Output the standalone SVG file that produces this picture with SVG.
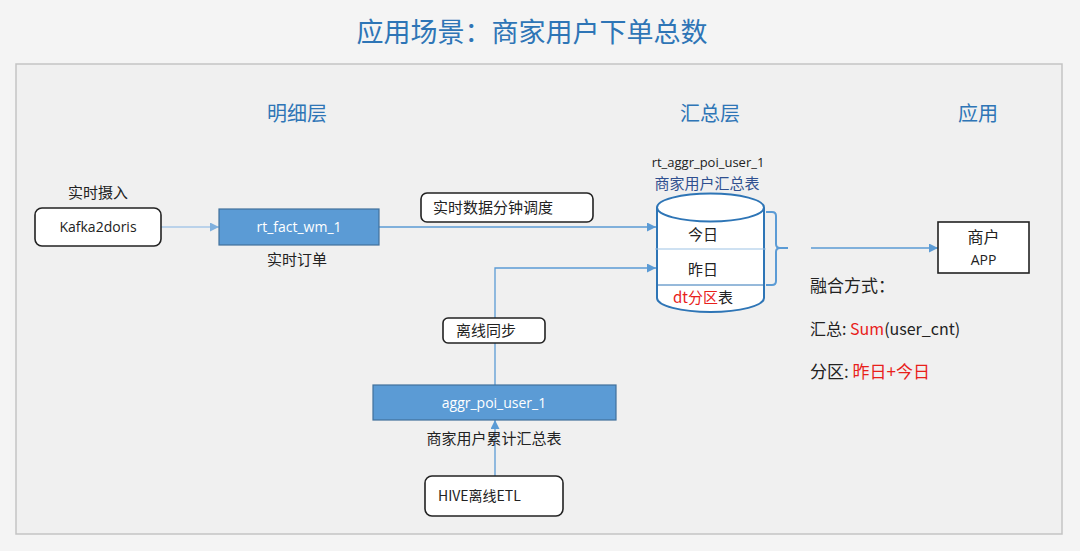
<svg xmlns="http://www.w3.org/2000/svg" width="1080" height="551" viewBox="0 0 1080 551">
<defs>
<style>
.cn{font-family:"Noto Sans CJK SC","Noto Sans",sans-serif;}
.lat{font-family:"Open Sans","Noto Sans","Noto Sans CJK SC",sans-serif;}
.hdr{font-size:20px;fill:#2e75b6;text-anchor:middle;}
.lbl{font-size:15px;fill:#222;}
.box{fill:#ffffff;stroke:#222;stroke-width:1.6;}
.blue{fill:#5b9bd5;stroke:#41719c;stroke-width:1.2;}
.wt{fill:#ffffff;font-size:14px;text-anchor:middle;}
.ln{fill:none;stroke:#5b9bd5;stroke-width:1.3;}
.red{fill:#e8201a;}
</style>
<marker id="ah" viewBox="0 0 10 10" refX="10" refY="5" markerWidth="9" markerHeight="9" markerUnits="userSpaceOnUse" orient="auto">
<path d="M0,0 L10,5 L0,10 z" fill="#5b9bd5"/>
</marker>
<marker id="ahl" viewBox="0 0 10 10" refX="10" refY="5" markerWidth="9" markerHeight="9" markerUnits="userSpaceOnUse" orient="auto">
<path d="M0,0 L10,5 L0,10 z" fill="#7fb0de"/>
</marker>
</defs>
<rect x="0" y="0" width="1080" height="551" fill="#f4f4f4"/>
<rect x="16" y="64" width="1046" height="470" fill="#f0f0f0" stroke="#c4c4c4" stroke-width="1.5"/>
<text class="cn" x="532" y="42" font-size="27" fill="#2e75b6" text-anchor="middle">应用场景：商家用户下单总数</text>

<text class="cn hdr" x="297" y="121">明细层</text>
<text class="cn hdr" x="710" y="121">汇总层</text>
<text class="cn hdr" x="978" y="121">应用</text>

<g id="connectors">
<line x1="161" y1="227" x2="219" y2="227" stroke="#a9c8e8" stroke-width="1.3" marker-end="url(#ahl)"/>
<line class="ln" x1="379" y1="227" x2="656" y2="227" marker-end="url(#ah)"/>
<polyline class="ln" points="495,385 495,268 656,268" marker-end="url(#ah)"/>
<line class="ln" x1="495" y1="476" x2="495" y2="420" marker-end="url(#ah)"/>
<path d="M766,212 L772,212 Q776,212 776,216 L776,244 Q776,248 780,248 L788,248 M780,248 Q776,248 776,252 L776,281 Q776,285 772,285 L766,285" fill="none" stroke="#5b9bd5" stroke-width="2"/>
<line class="ln" x1="811" y1="248" x2="938" y2="248" marker-end="url(#ah)"/>
</g>

<g id="kafka">
<text class="cn lbl" x="98" y="198" text-anchor="middle">实时摄入</text>
<rect class="box" x="35" y="208" width="126" height="38" rx="7"/>
<text class="lat" x="98" y="232" font-size="14" fill="#222" text-anchor="middle">Kafka2doris</text>
</g>

<g id="rt_fact">
<rect class="blue" x="219" y="209" width="160" height="36"/>
<text class="lat wt" x="299" y="232">rt_fact_wm_1</text>
<text class="cn lbl" x="297" y="265" text-anchor="middle">实时订单</text>
</g>

<g id="sched">
<rect class="box" x="421" y="193" width="172" height="29" rx="6"/>
<text class="cn lbl" x="433" y="213">实时数据分钟调度</text>
</g>

<g id="cylinder">
<text class="lat" x="708" y="167" font-size="13" fill="#222" text-anchor="middle">rt_aggr_poi_user_1</text>
<text class="cn" x="707" y="189" font-size="15" fill="#2f4f8f" text-anchor="middle">商家用户汇总表</text>
<path d="M657,207.5 L657,298 A53.5,14 0 0 0 764,298 L764,207.5" fill="#ffffff" stroke="#2e75b6" stroke-width="2"/>
<ellipse cx="710.5" cy="207.5" rx="53.5" ry="14" fill="#ffffff" stroke="#2e75b6" stroke-width="2"/>
<line x1="655" y1="249" x2="766" y2="249" stroke="#9dc3e6" stroke-width="1.2"/>
<line x1="657" y1="285" x2="764" y2="285" stroke="#2e75b6" stroke-width="1"/>
<text class="cn lbl" x="703" y="240" text-anchor="middle">今日</text>
<text class="cn lbl" x="703" y="275" text-anchor="middle">昨日</text>
<text class="cn lbl" x="703" y="303" text-anchor="middle"><tspan class="red">dt分区</tspan>表</text>
</g>

<g id="offline_sync">
<rect class="box" x="443" y="318" width="102" height="25" rx="5"/>
<text class="cn lbl" x="456" y="336">离线同步</text>
</g>

<g id="aggr">
<rect class="blue" x="373" y="385" width="243" height="35"/>
<text class="lat wt" x="494" y="408">aggr_poi_user_1</text>
<text class="cn lbl" x="494" y="444" text-anchor="middle">商家用户累计汇总表</text>
</g>

<g id="hive">
<rect class="box" x="425" y="476" width="138" height="40" rx="7"/>
<text class="cn" x="438" y="501" font-size="14" fill="#222">HIVE离线ETL</text>
</g>

<g id="app">
<rect x="938" y="222" width="91" height="51" fill="#ffffff" stroke="#222" stroke-width="1.6"/>
<text class="cn" x="983.5" y="243" font-size="16" fill="#222" text-anchor="middle">商户</text>
<text class="lat" x="983.5" y="265" font-size="14" fill="#222" text-anchor="middle">APP</text>
</g>

<g id="notes">
<text class="cn" x="810" y="292" font-size="17" fill="#222">融合方式：</text>
<text class="cn" x="810" y="335" font-size="16" fill="#222">汇总: <tspan class="red">Sum</tspan>(user_cnt)</text>
<text class="cn" x="810" y="378" font-size="17" fill="#222">分区: <tspan class="red">昨日+今日</tspan></text>
</g>
</svg>
